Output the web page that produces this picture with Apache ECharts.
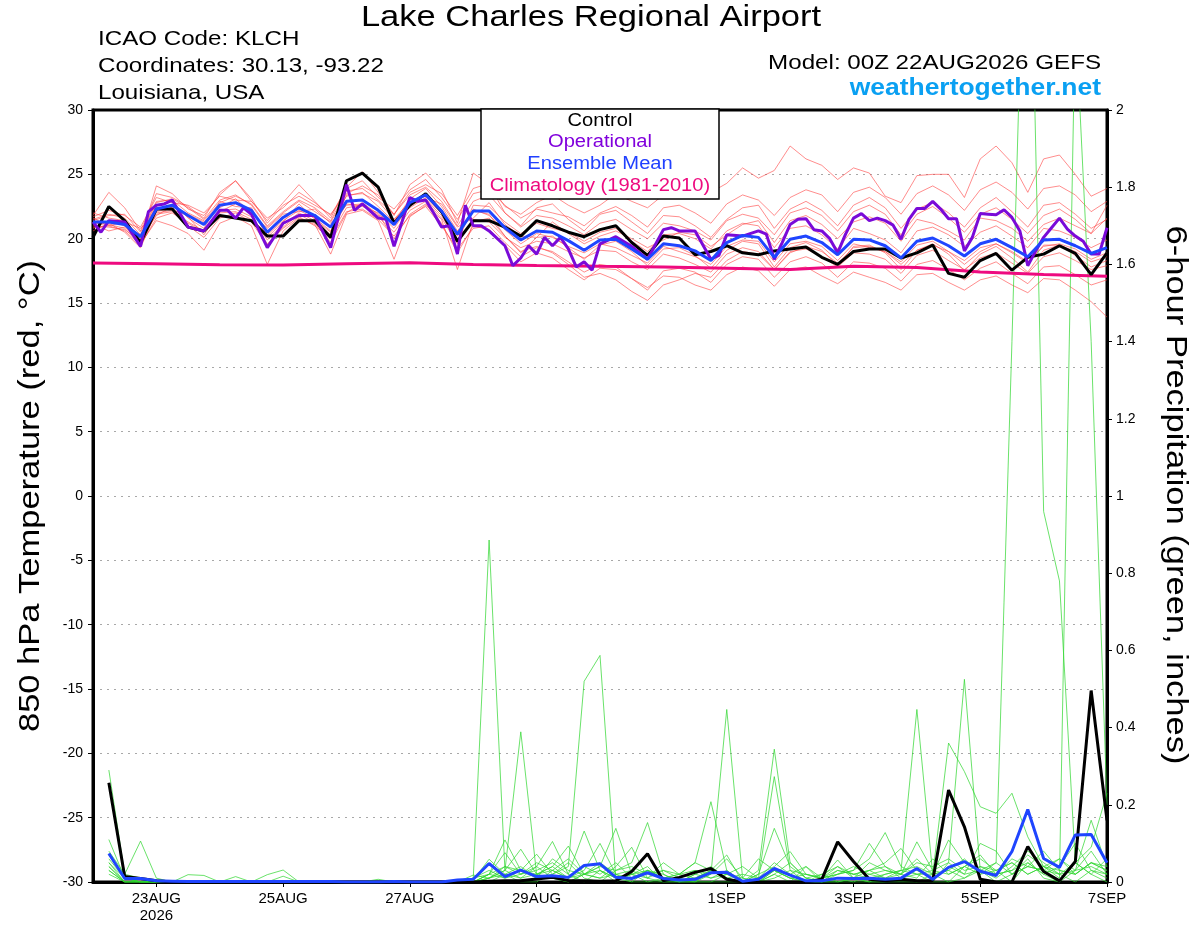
<!DOCTYPE html>
<html>
<head>
<meta charset="utf-8">
<title>Lake Charles Regional Airport - GEFS meteogram</title>
<script src="https://cdn.jsdelivr.net/npm/echarts@6/dist/echarts.min.js"></script>
<style>
  html, body { margin: 0; padding: 0; background: #fff; }
  #chart { width: 1200px; height: 927px; }
</style>
</head>
<body>
<div id="chart"></div>
<script>
// x axis: forecast hours from 00Z 22AUG2026
var tickHours = [24, 72, 120, 168, 240, 288, 336, 384];
var tickLabels = ['23AUG\n2026', '25AUG', '27AUG', '29AUG', '1SEP', '3SEP', '5SEP', '7SEP'];

// 850 hPa temperature (C), every 6 h from 0 to 384
var ctrlTemp = [
  20.1, 22.5, 21.4, 19.7, 22.3, 22.3, 20.9, 20.6, 21.8, 21.6, 21.4, 20.2, 20.2, 21.4, 21.4, 20.1,
  24.5, 25.1, 24.0, 21.2, 22.6, 23.5, 22.1, 19.8, 21.4, 21.4, 20.9, 20.2, 21.4, 21.0, 20.5, 20.15,
  20.7, 21.0, 19.7, 18.7, 20.2, 20.05, 18.75, 19.0, 19.45, 18.9, 18.75, 19.05, 19.2, 19.35, 18.55, 18.0,
  19.0, 19.2, 19.2, 18.5, 18.9, 19.5, 17.3, 17.0, 18.3, 18.85, 17.55, 18.55, 18.8, 19.45, 18.85, 17.2,
  18.9
];
var meanTemp = [
  21.3, 21.3, 21.1, 20.15, 22.3, 22.6, 21.8, 21.1, 22.6, 22.8, 22.2, 20.5, 21.65, 22.4, 21.8, 20.9,
  22.9, 23.0, 22.2, 21.1, 22.8, 23.4, 22.15, 20.35, 22.15, 22.15, 20.85, 19.9, 20.6, 20.5, 19.85, 19.1,
  19.9, 19.95, 19.2, 18.4, 19.6, 19.45, 19.05, 18.3, 19.7, 20.25, 20.1, 18.55, 19.95, 20.2, 19.7, 18.75,
  19.95, 19.9, 19.45, 18.5, 19.8, 20.05, 19.45, 18.65, 19.6, 19.95, 19.3, 18.6, 19.9, 19.95, 19.45, 18.85,
  19.3
];

// operational run (3-hourly)
var opHours = [0, 3, 6, 12, 18, 21, 24, 27, 30, 36, 42, 48, 51, 54, 57, 60, 66, 72, 78, 84,
  90, 96, 99, 102, 108, 111, 114, 120, 123, 126, 129, 132, 135, 138, 141, 144, 147, 150, 156, 159,
  162, 165, 168, 171, 174, 177, 180, 183, 186, 189, 192, 198, 204, 210, 216, 219, 222, 228, 234, 237,
  240, 246, 252, 255, 258, 261, 264, 267, 270, 273, 276, 279, 282, 285, 288, 291, 294, 297, 300, 303,
  306, 309, 312, 315, 318, 321, 324, 327, 330, 333, 336, 339, 342, 345, 348, 351, 354, 357, 360, 363,
  366, 369, 372, 375, 378, 381, 384];
var opTemp = [21.3, 20.5, 21.4, 21.3, 19.4, 22.1, 22.6, 22.7, 23.0, 20.9, 20.6, 22.2, 22.2, 21.6, 22.4, 21.9, 19.3, 21.2, 21.8, 21.8,
  19.3, 24.2, 22.2, 22.7, 21.6, 21.5, 19.4, 23.2, 22.9, 23.0, 22.0, 20.9, 21.0, 18.8, 22.6, 21.0, 21.0, 20.6, 19.45, 17.9,
  18.5, 19.45, 18.8, 20.1, 19.45, 20.1, 19.2, 17.8, 18.2, 17.55, 19.6, 20.15, 19.4, 18.4, 20.7, 20.85, 20.6, 20.6, 18.4, 18.7,
  20.3, 20.2, 20.6, 20.35, 18.4, 19.7, 21.1, 21.5, 21.55, 20.7, 20.6, 20.0, 18.9, 20.35, 21.6, 21.95, 21.4, 21.6, 21.4, 21.05,
  19.95, 21.5, 22.35, 22.35, 22.9, 22.3, 21.55, 21.55, 19.05, 20.1, 21.95, 21.9, 21.85, 22.25, 21.65, 20.6, 17.9, 19.05, 20.1, 20.85,
  21.6, 20.75, 20.2, 19.8, 18.8, 18.8, 20.85];

// climatology, one value per day at 00Z
var climoTemp = [18.1, 18.05, 17.98, 17.95, 18.05, 18.12, 18.0, 17.92, 17.85, 17.8, 17.7, 17.6, 17.85, 17.75, 17.4, 17.22, 17.08];

// ensemble members, temperature
var tempMembers = [
  [21.8,23.6,22.4,20.6,23.5,23.2,22.5,21.6,23.6,24.5,23.1,21.2,22.6,23.3,22.6,21.9,
   23.5,24.1,23.4,21.9,23.6,24.2,23.5,21.8,23.9,24.3,22.5,21.9,22.8,23.4,22.6,22.0,
   22.6,23.5,22.9,22.4,23.4,24.2,24.0,23.6,24.3,25.5,24.7,25.3,27.2,26.2,25.7,24.6,
   25.5,25.1,23.3,22.8,24.9,25.0,25.0,23.2,26.2,27.2,25.9,23.6,26.2,26.5,25.0,23.3,23.9],
  [20.9,21.0,20.6,19.5,21.6,22.0,21.2,20.5,22.0,22.1,21.5,19.6,20.8,21.7,21.0,20.0,
   22.1,22.3,21.5,20.2,21.8,22.5,21.0,19.2,20.8,21.0,19.7,18.6,19.3,19.0,18.2,17.4,
   18.0,17.8,16.9,16.2,17.1,17.0,16.4,16.0,17.2,17.8,17.5,16.3,17.6,17.8,17.1,16.5,
   17.4,17.0,16.6,16.0,17.2,17.3,16.6,16.0,16.8,17.1,16.4,15.8,16.9,16.8,16.0,15.1,13.9],
  [21.5,21.9,21.6,20.3,22.8,23.1,22.4,21.5,23.0,23.4,22.6,20.9,22.0,22.9,22.1,21.3,
   23.3,23.6,22.5,21.3,23.1,23.9,22.5,20.6,22.2,21.9,20.2,19.0,19.4,18.9,18.0,17.0,
   17.3,16.8,15.9,15.2,16.4,16.8,17.3,17.0,18.3,19.0,18.8,17.6,18.9,19.4,19.0,18.1,
   19.3,19.4,19.0,18.0,19.1,19.5,19.0,18.0,19.0,19.6,19.0,18.2,19.4,19.6,19.2,18.4,18.9],
  [22.0,21.6,21.4,20.0,24.1,23.5,22.3,21.8,23.4,24.5,22.9,21.4,22.8,24.2,22.9,21.6,
   24.0,25.2,23.6,21.8,24.2,25.1,23.8,21.2,25.1,24.2,22.0,21.0,22.4,22.7,21.5,20.6,
   21.9,22.2,21.3,20.4,21.8,21.7,21.0,20.1,21.5,22.4,22.6,20.8,22.3,22.9,22.2,21.0,
   22.6,23.2,22.4,20.8,22.3,22.8,22.0,20.9,22.4,23.2,22.1,20.9,22.6,22.8,21.9,20.8,21.5],
  [21.2,21.1,20.8,19.6,21.4,21.0,20.4,19.1,21.2,21.7,21.0,18.0,20.6,21.6,21.1,18.8,
   21.9,22.2,21.4,18.4,21.7,22.6,21.5,17.6,21.3,21.6,20.2,18.9,20.1,20.2,19.3,18.4,
   19.5,19.8,19.0,17.9,19.2,19.3,18.7,17.7,19.1,19.8,19.6,17.8,19.3,19.7,19.1,17.9,
   19.4,19.5,18.9,17.6,19.1,19.6,18.8,17.5,18.8,19.4,18.5,17.4,19.1,19.5,18.7,17.8,18.3],
  [20.8,21.4,21.0,20.3,22.6,22.9,21.6,20.8,22.9,22.5,22.4,20.1,21.3,22.7,21.5,20.5,
   23.4,23.5,22.9,21.5,22.9,23.0,21.8,19.7,22.6,22.5,21.3,20.4,21.2,20.8,20.5,19.8,
   20.5,20.8,19.8,19.0,20.3,20.4,20.0,19.2,20.6,21.2,21.0,19.3,20.8,21.0,20.3,19.2,
   20.8,20.4,19.9,18.9,20.6,20.9,20.3,19.4,20.5,21.0,20.2,19.3,20.8,20.6,20.1,19.3,19.9],
  [21.6,21.0,21.3,20.8,22.0,22.2,21.9,21.3,22.4,23.1,22.0,20.8,21.9,22.1,22.3,21.2,
   22.6,22.7,21.8,21.5,22.4,23.2,22.7,20.9,21.6,22.8,21.1,20.2,20.1,21.3,20.4,19.6,
   20.2,20.6,20.0,19.3,19.9,20.5,20.3,19.4,20.3,21.1,21.4,19.7,21.4,21.8,21.1,20.0,
   21.3,21.7,21.2,19.8,21.5,21.2,20.6,19.9,21.6,21.4,20.8,19.8,21.1,21.6,21.0,20.4,21.6],
  [21.0,20.9,20.7,19.8,21.9,22.1,21.3,20.6,22.2,22.3,21.7,19.9,21.1,22.0,21.4,20.3,
   22.4,22.6,21.7,20.5,22.2,22.9,21.6,19.6,21.5,21.3,20.1,19.3,19.8,19.6,19.0,18.5,
   19.1,19.0,18.2,17.6,18.8,18.5,18.0,17.4,18.8,19.3,19.0,17.6,19.0,19.2,18.6,17.8,
   18.9,18.8,18.4,17.3,18.7,19.1,18.3,17.6,18.5,18.9,18.1,17.3,18.6,18.9,18.3,17.6,17.9],
  [21.4,21.8,21.9,20.5,22.9,23.0,22.0,21.4,22.8,23.3,22.7,21.0,22.1,23.0,22.4,21.4,
   23.7,23.9,23.0,21.9,23.4,24.0,22.9,21.0,22.9,23.4,22.0,20.9,21.8,21.6,21.0,20.3,
   21.2,21.5,20.7,20.0,21.2,21.0,20.6,19.9,21.4,21.9,21.6,20.3,22.0,22.4,21.8,20.6,
   22.1,22.6,21.9,20.3,21.9,22.5,21.6,20.5,21.9,22.4,21.5,20.4,21.8,22.3,21.5,20.4,22.6],
  [21.1,20.6,20.9,19.9,21.8,22.5,21.7,20.3,22.1,22.7,22.2,20.3,21.4,22.2,21.6,20.6,
   22.7,22.5,22.0,20.8,22.6,23.1,22.0,20.2,22.3,21.8,20.7,19.6,20.4,20.1,19.4,18.9,
   19.6,19.3,18.7,18.1,19.4,19.0,18.6,18.0,19.4,19.9,19.8,18.2,19.6,19.8,19.4,18.3,
   19.6,19.3,19.0,18.2,19.5,19.8,19.0,18.3,19.3,19.6,18.9,18.1,19.5,19.5,19.0,18.2,18.6],
  [21.7,22.2,21.8,20.9,23.2,22.8,22.6,22.0,23.3,23.0,22.9,21.6,22.4,23.6,22.8,21.8,
   23.9,24.5,23.2,22.3,23.8,24.6,23.2,21.5,23.5,23.8,22.6,21.6,22.3,22.0,21.7,21.0,
   22.0,22.5,21.8,20.9,22.4,22.6,22.0,21.2,22.7,23.4,23.0,21.8,23.2,23.8,23.4,22.1,
   23.6,24.0,23.2,21.9,23.5,24.1,23.4,22.2,23.8,24.4,23.6,22.3,23.9,24.1,23.4,22.1,22.9],
  [20.6,21.2,20.5,19.3,22.1,22.4,21.0,20.1,21.6,22.0,21.3,19.5,20.9,21.9,21.2,19.7,
   22.0,22.8,21.9,20.0,21.9,22.7,21.2,18.9,21.0,20.7,19.5,18.2,18.9,18.5,17.6,16.8,
   17.7,17.6,16.9,16.0,17.5,17.7,17.4,16.6,18.0,18.6,18.4,17.0,18.2,18.6,18.1,17.0,
   18.2,18.1,17.7,16.7,18.0,18.3,17.6,16.8,17.7,18.2,17.3,16.5,17.8,17.9,17.2,16.4,16.8]
];

// 6-hour precipitation (inches), valid 6 h to 384 h
var ctrlPrecip = [
  0.257, 0.014, 0.009, 0.003, 0, 0, 0, 0, 0, 0, 0, 0, 0, 0, 0, 0,
  0, 0, 0, 0, 0, 0, 0, 0, 0.002, 0.003, 0.003, 0.008, 0.012, 0.004, 0.003, 0.002,
  0.003, 0.027, 0.073, 0.003, 0.012, 0.025, 0.035, 0.007, 0, 0, 0, 0, 0, 0.007, 0.104, 0.053,
  0.007, 0.003, 0.007, 0.003, 0.003, 0.238, 0.143, 0.007, 0, 0, 0.092, 0.027, 0.003, 0.053, 0.496, 0.16
];
var meanPrecip = [
  0.074, 0.009, 0.009, 0.003, 0.002, 0.001, 0.001, 0.001, 0.001, 0.001, 0.001, 0.001, 0.001, 0.001, 0.001, 0,
  0, 0, 0.001, 0, 0, 0, 0.005, 0.007, 0.048, 0.014, 0.031, 0.014, 0.016, 0.012, 0.043, 0.047,
  0.012, 0.009, 0.024, 0.009, 0.005, 0.007, 0.024, 0.025, 0.002, 0.007, 0.035, 0.018, 0.003, 0.003, 0.01, 0.009,
  0.01, 0.007, 0.01, 0.035, 0.007, 0.038, 0.053, 0.028, 0.017, 0.079, 0.188, 0.061, 0.038, 0.122, 0.123, 0.05
];
var precipMembers = [
  [0.29,0.02,0.01,0,0,0,0,0,0,0,0,0,0,0,0,0,
   0,0,0,0,0,0,0,0,0,0.02,0,0,0.03,0.01,0.03,0.1,
   0.02,0,0,0,0,0,0,0,0,0.03,0.344,0.05,0.01,0,0,0,
   0,0,0,0,0,0,0.04,0.06,0.03,0,0.05,0.02,0,0.03,0.16,0.04],
  [0.11,0.01,0,0,0,0,0,0,0,0,0,0.015,0,0,0,0,
   0,0,0,0,0,0,0,0.005,0.059,0.02,0.01,0.04,0.01,0,0.02,0.04,
   0.139,0.02,0,0.01,0,0,0.03,0.01,0,0,0.02,0,0.04,0,0,0.01,
   0,0.02,0.03,0.447,0.02,0,0.01,0.03,0,0.02,0.06,0.01,0,0.05,0.09,0.23],
  [0.08,0.02,0.106,0.01,0,0,0,0,0,0,0,0,0,0,0,0,
   0,0,0,0,0,0,0,0.01,0.02,0.109,0.03,0.01,0.02,0.05,0.01,0,
   0.03,0.05,0.154,0.02,0,0,0,0.02,0,0,0.01,0.03,0,0.01,0.057,0.01,
   0,0,0.01,0.02,0,0.05,0.525,0.03,0.01,0.04,0.08,0.05,0.02,0,0.03,0.02],
  [0.06,0.01,0,0,0,0.019,0.017,0,0,0,0,0,0,0,0,0,
   0,0,0,0,0,0,0,0,0.01,0.03,0.085,0.02,0.01,0,0.02,0.01,
   0.04,0.09,0.01,0,0,0.02,0.04,0.01,0,0,0.03,0.01,0,0,0.02,0.03,
   0.1,0.04,0.01,0,0.02,0.03,0.06,0.02,0.05,1.4,2.85,0.96,0.78,0.05,0.02,0],
  [0.05,0,0,0,0,0,0,0,0.014,0,0,0,0,0,0,0,
   0,0,0,0,0,0,0,0.01,0.03,0.01,0.02,0.04,0.105,0.02,0,0.03,
   0.01,0,0.03,0.01,0.02,0.05,0.208,0.03,0,0.01,0.05,0.02,0,0,0.01,0,
   0.02,0.03,0.02,0.01,0.06,0.02,0.04,0.07,0.02,0.03,0.05,0.02,0.04,0.1,0.03,0.01],
  [0.04,0,0,0,0,0,0,0,0,0,0.019,0.031,0,0,0,0,
   0,0,0,0,0,0,0,0,0.02,0.076,0.02,0.03,0.05,0.02,0.132,0.03,
   0,0.02,0.04,0,0.01,0.03,0.02,0.06,0.01,0.06,0.03,0.01,0,0.02,0,0.01,
   0.03,0.05,0.087,0.03,0.01,0.04,0.02,0.1,0.08,0.02,0.04,0.03,0.06,0.02,0.05,0.04],
  [0.03,0,0,0,0,0,0,0,0,0,0,0,0,0,0,0,
   0,0.007,0,0,0,0,0,0,0.01,0.03,0.389,0.02,0.03,0.01,0.04,0.02,
   0.05,0.01,0.03,0.02,0,0.01,0.03,0.07,0,0.02,0.139,0.04,0.01,0,0.03,0.02,
   0.01,0.02,0.03,0.04,0.02,0.109,0.05,0.03,0.02,0.06,0.04,0.08,0.03,0.02,0.05,0.03],
  [0.03,0,0,0,0,0,0,0,0,0,0,0,0,0,0,0,
   0,0,0,0,0,0,0,0.018,0.01,0.04,0.02,0.05,0.03,0.06,0.02,0.04,
   0.03,0.04,0.02,0.03,0.01,0,0.02,0.447,0.01,0,0.02,0.05,0.01,0.02,0.04,0.01,
   0.05,0.03,0.02,0.06,0.02,0.03,0.01,0.04,0.03,0.05,0.02,0.04,0.06,0.03,0.08,0.02],
  [0.02,0,0,0,0,0,0,0,0,0,0,0,0,0,0,0,
   0,0,0,0,0,0,0,0.01,0.886,0.03,0.01,0.02,0.04,0.01,0.02,0.01,
   0.02,0.01,0.03,0.01,0,0.02,0.01,0.03,0,0.02,0.04,0.079,0.02,0.01,0.03,0.02,
   0.03,0.04,0.02,0.104,0.03,0.02,0.04,0.02,0.03,0.05,0.02,0.04,0.01,2.25,1.4,0.2],
  [0.05,0.01,0,0,0,0,0,0,0,0,0,0,0,0,0,0,
   0,0,0,0,0,0,0,0,0.02,0.04,0.03,0.072,0.02,0.04,0.52,0.587,
   0.01,0.02,0.03,0.01,0.02,0.01,0.03,0.02,0.01,0,0.03,0.02,0.04,0.01,0.02,0.03,
   0.06,0.128,0.04,0.02,0.03,0.05,0.02,0.03,0.05,0.02,0.04,0.03,0.02,0.05,0.02,0.06],
  [0.07,0.01,0,0,0,0,0,0,0,0,0,0,0,0,0,0,
   0,0,0,0,0,0,0,0,0.01,0.02,0.04,0.01,0.06,0.03,0.02,0.05,
   0.02,0.03,0.01,0.05,0.02,0.03,0.01,0.02,0.04,0.01,0.273,0.03,0.02,0.01,0.04,0.02,
   0.03,0.01,0.02,0.05,0.04,0.06,0.03,0.04,0.02,0.03,0.07,0.04,0.02,0.03,0.04,0.02],
  [0.04,0,0,0,0,0,0,0,0,0,0,0,0,0,0,0,
   0,0,0,0,0,0,0,0,0.02,0.01,0.03,0.02,0.04,0.093,0.02,0.03,
   0.01,0.02,0.01,0.03,0.02,0.05,0.03,0.01,0.02,0.01,0.03,0.01,0.02,0.01,0.02,0.04,
   0.02,0.01,0.03,0.02,0.02,0.36,0.286,0.195,0.178,0.23,0.117,0.04,0.03,0.02,0.05,0.03]
];

// hour positions of the 6-hourly / daily values
var tempHours = [];
for (var h = 0; h <= 384; h += 6) tempHours.push(h);
var precipHours = [];
for (var h2 = 6; h2 <= 384; h2 += 6) precipHours.push(h2);
var climoHours = [];
for (var h3 = 0; h3 <= 384; h3 += 24) climoHours.push(h3);

function toPairs(hours, values) {
  var out = [];
  for (var i = 0; i < values.length; i++) {
    out.push([hours[i], values[i]]);
  }
  return out;
}

var FONT = 'Liberation Sans, Arial, Helvetica, sans-serif';
var STRETCH = 1.15; // the original lettering is a little wider than Arial

var series = [];
// red members
for (var i = 0; i < tempMembers.length; i++) {
  series.push({
    type: 'line', yAxisIndex: 0, z: 1, silent: true,
    showSymbol: false, symbol: 'none',
    lineStyle: { color: '#ff4040', width: 0.8, opacity: 0.75 },
    data: toPairs(tempHours, tempMembers[i])
  });
}
// green members
for (var j = 0; j < precipMembers.length; j++) {
  series.push({
    type: 'line', yAxisIndex: 1, z: 1, silent: true,
    showSymbol: false, symbol: 'none',
    lineStyle: { color: '#2fd62f', width: 0.8, opacity: 0.9 },
    data: toPairs(precipHours, precipMembers[j])
  });
}
series.push({
  name: 'Climatology (1981-2010)', type: 'line', yAxisIndex: 0, z: 3,
  showSymbol: false, symbol: 'none',
  lineStyle: { color: '#ee0a7f', width: 3 },
  data: toPairs(climoHours, climoTemp)
});
series.push({
  name: 'Control', type: 'line', yAxisIndex: 0, z: 4,
  showSymbol: false, symbol: 'none',
  lineStyle: { color: '#000000', width: 3 },
  data: toPairs(tempHours, ctrlTemp)
});
series.push({
  name: 'Control precip', type: 'line', yAxisIndex: 1, z: 4,
  showSymbol: false, symbol: 'none',
  lineStyle: { color: '#000000', width: 3 },
  data: toPairs(precipHours, ctrlPrecip)
});
series.push({
  name: 'Operational', type: 'line', yAxisIndex: 0, z: 5,
  showSymbol: false, symbol: 'none',
  lineStyle: { color: '#7a0ad8', width: 3 },
  data: toPairs(opHours, opTemp)
});
series.push({
  name: 'Ensemble Mean', type: 'line', yAxisIndex: 0, z: 6,
  showSymbol: false, symbol: 'none',
  lineStyle: { color: '#1f45ff', width: 3 },
  data: toPairs(tempHours, meanTemp)
});
series.push({
  name: 'Ensemble Mean precip', type: 'line', yAxisIndex: 1, z: 6,
  showSymbol: false, symbol: 'none',
  lineStyle: { color: '#1f45ff', width: 3 },
  data: toPairs(precipHours, meanPrecip)
});

function txt(x, y, s, size, color, align, extra) {
  var el = {
    type: 'text', x: x, y: y, z: 100, scaleX: STRETCH,
    style: {
      text: s, fill: color, font: size + 'px ' + FONT,
      align: align, verticalAlign: 'middle'
    }
  };
  if (extra) {
    for (var k in extra) el[k] = extra[k];
  }
  return el;
}

var chart = echarts.init(document.getElementById('chart'));
var option = {
  animation: false,
  backgroundColor: '#ffffff',
  grid: {
    left: 93, right: 93, top: 110, bottom: 45,
    show: true, borderColor: '#000', borderWidth: 3
  },
  xAxis: {
    type: 'value', min: 0, max: 384,
    axisLine: { show: true, onZero: false, lineStyle: { color: '#000', width: 3 } },
    axisTick: { show: true, customValues: tickHours, length: 5, lineStyle: { color: '#000', width: 1 } },
    axisLabel: {
      customValues: tickHours,
      showMinLabel: true, showMaxLabel: true,
      color: '#000', fontSize: 15, fontFamily: FONT, margin: 8, lineHeight: 17,
      formatter: function (v) {
        var idx = tickHours.indexOf(Math.round(v));
        return idx >= 0 ? tickLabels[idx] : '';
      }
    },
    splitLine: { show: false }
  },
  yAxis: [
    {
      type: 'value', min: -30, max: 30, interval: 5, position: 'left',
      axisLine: { show: true, onZero: false, lineStyle: { color: '#000', width: 3 } },
      axisTick: { show: true, length: 5, lineStyle: { color: '#000' } },
      axisLabel: { color: '#000', fontSize: 14, fontFamily: FONT, margin: 10 },
      splitLine: {
        show: true, showMinLine: false, showMaxLine: false,
        lineStyle: { color: '#a8a8a8', width: 1, type: [2, 5] }
      }
    },
    {
      type: 'value', min: 0, max: 2, interval: 0.2, position: 'right',
      axisLine: { show: true, onZero: false, lineStyle: { color: '#000', width: 3 } },
      axisTick: { show: true, length: 5, lineStyle: { color: '#000' } },
      axisLabel: {
        color: '#000', fontSize: 14, fontFamily: FONT, margin: 9,
        formatter: function (v) { return String(Math.round(v * 10) / 10); }
      },
      splitLine: { show: false }
    }
  ],
  graphic: [
    txt(591, 18, 'Lake Charles Regional Airport', 30, '#000', 'center'),
    txt(98, 39, 'ICAO Code: KLCH', 21, '#000', 'left'),
    txt(98, 66, 'Coordinates: 30.13, -93.22', 21, '#000', 'left'),
    txt(98, 93, 'Louisiana, USA', 21, '#000', 'left'),
    txt(1101, 63, 'Model: 00Z 22AUG2026 GEFS', 21, '#000', 'right'),
    {
      type: 'text', x: 1101, y: 89, z: 100, scaleX: STRETCH,
      style: { text: 'weathertogether.net', fill: '#0aa0f2', font: 'bold 23px ' + FONT, align: 'right', verticalAlign: 'middle' }
    },
    {
      type: 'rect', z: 99,
      shape: { x: 481, y: 109, width: 238, height: 90 },
      style: { fill: '#ffffff', stroke: '#000', lineWidth: 1.5 }
    },
    txt(600, 121, 'Control', 17.5, '#000', 'center'),
    txt(600, 142, 'Operational', 17.5, '#8000dc', 'center'),
    txt(600, 164, 'Ensemble Mean', 17.5, '#2040ff', 'center'),
    txt(600, 186, 'Climatology (1981-2010)', 17.5, '#ee0a7f', 'center'),
    txt(31, 496, '850 hPa Temperature (red, \u00B0C)', 30, '#000', 'center', { rotation: Math.PI / 2 }),
    txt(1175, 495, '6-hour Precipitation (green, inches)', 30, '#000', 'center', { rotation: -Math.PI / 2 })
  ],
  series: series
};
chart.setOption(option);
</script>
</body>
</html>
